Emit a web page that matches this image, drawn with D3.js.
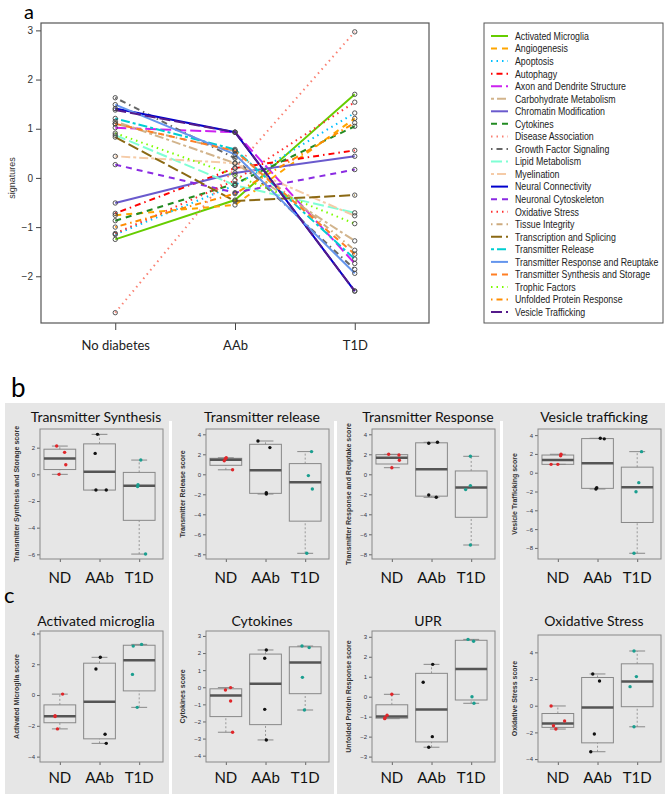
<!DOCTYPE html>
<html>
<head>
<meta charset="utf-8">
<script src="https://cdn.jsdelivr.net/npm/d3@7"></script>
<style>
  body { margin: 0; background: #fff; }
  svg { display: block; }
  text { font-family: "Liberation Sans", Arial, sans-serif; }
  .cal { font-family: Lato, "Open Sans", sans-serif; }
</style>
</head>
<body>
<div id="chart"></div>
<script>
// ---------- panel a : signature trajectories ----------
var stages = ["No diabetes", "AAb", "T1D"];
var signatureNames = [
  "Activated Microglia", "Angiogenesis", "Apoptosis", "Autophagy",
  "Axon and Dendrite Structure", "Carbohydrate Metabolism", "Chromatin Modification",
  "Cytokines", "Disease Association", "Growth Factor Signaling", "Lipid Metabolism",
  "Myelination", "Neural Connectivity", "Neuronal Cytoskeleton", "Oxidative Stress",
  "Tissue Integrity", "Transcription and Splicing", "Transmitter Release",
  "Transmitter Response and Reuptake", "Transmitter Synthesis and Storage",
  "Trophic Factors", "Unfolded Protein Response", "Vesicle Trafficking"
];
var valuesND  = [-1.25, -0.76, -1.15, -0.72, 1.02, 1.15, -0.51, -0.87, -2.74, 1.63, 0.87, 0.44, 1.41, 0.27, -1.13, 1.10, 0.83, 1.21, 1.49, 1.10, 0.91, -1.00, 1.38];
var valuesAAb = [-0.45, -0.55, -0.15, 0.20, 0.93, 0.30, 0.10, -0.12, 0.20, 0.40, -0.15, 0.30, 0.93, -0.30, -0.05, 0.55, -0.47, 0.58, 0.48, 0.55, 0.05, -0.32, 0.93];
var valuesT1D = [1.70, 1.21, 1.32, 0.56, -1.74, -1.28, 0.44, 1.05, 2.97, -1.86, -0.71, -0.77, -2.30, 0.17, 1.54, -1.47, -0.35, -1.65, -1.94, -1.55, -0.93, 1.12, -2.30];
var yTicksA = [-2, -1, 0, 1, 2, 3];

var lineColors = [
  "#66cd00", "#ffa500", "#00bfff", "#ff0000", "#cc22f0", "#d2b48c", "#6a5acd",
  "#228b22", "#fa8072", "#666666", "#7fffd4", "#f5cba7", "#0000cd", "#8a2be2",
  "#ff3030", "#cdaa7d", "#8b6914", "#00ced1", "#6495ed", "#ff7f24", "#7cfc00",
  "#ff8c00", "#551a8b"
];
// R line types 1..6 cycling: solid, dashed, dotted, dotdash, longdash, twodash
var dashPatterns = [null, "6,5", "1.5,4", "1.5,4,6,4", "11,4", "3,3,9,3"];

// ---------- panels b & c : score boxplots ----------
var boxGroups = ["ND", "AAb", "T1D"];
var panelTitles = ["Transmitter Synthesis", "Transmitter release", "Transmitter Response", "Vesicle trafficking",
                   "Activated microglia", "Cytokines", "UPR", "Oxidative Stress"];
var panelAxisTitles = ["Transmitter Synthesis and Storage score", "Transmitter Release score",
                       "Transmitter Response and Reuptake score", "Vesicle Trafficking score",
                       "Activated Microglia score", "Cytokines score",
                       "Unfolded Protein Response score", "Oxidative Stress score"];
var scoresND = [
  [2.12, 1.65, 0.72, 0.00], [1.65, 1.55, 1.35, 0.45], [2.00, 1.93, 1.40, 0.66], [1.96, 1.80, 0.89, 0.89],
  [0.06, -1.34, -1.40, -2.20], [-0.02, -0.16, -0.80, -2.63], [0.12, -0.93, -1.05, -1.10], [-0.02, -1.15, -1.50, -1.75]
];
var scoresAAb = [
  [3.00, 1.57, -1.18, -1.18], [3.33, 2.67, -1.84, -1.97], [3.10, 3.20, -2.07, -2.30], [3.66, 3.60, -1.60, -1.73],
  [2.45, 1.69, -2.55, -3.14], [2.18, 1.70, -1.29, -3.08], [1.62, 0.72, -2.00, -2.53], [2.38, 1.85, -2.12, -3.45]
];
var scoresT1D = [
  [1.07, -0.78, -0.92, -5.98], [2.27, -0.13, -1.47, -7.90], [1.80, -1.13, -1.53, -7.07], [2.24, -1.06, -2.02, -8.57],
  [3.29, 3.18, 1.34, -0.80], [2.41, 2.32, 0.58, -1.33], [2.87, 2.78, 0.00, -0.33], [4.10, 2.18, 1.43, -1.58]
];
// horizontal jitter of the dots (in group units), as in the figure
var jitterND = [
  [-0.08, 0.12, 0.15, -0.02], [0.01, -0.01, -0.04, 0.17], [-0.08, 0.18, 0.19, 0], [0.08, 0.07, -0.17, 0],
  [0.07, -0.12, -0.12, -0.06], [0.12, -0.01, 0.12, 0.17], [0, -0.12, -0.17, -0.18], [-0.17, 0.17, -0.11, -0.05]
];
var jitterAAb = [
  [-0.05, -0.11, -0.09, 0.17], [-0.19, 0.11, 0.02, 0.02], [-0.07, 0.15, -0.07, 0.12], [0.07, 0.17, -0.02, -0.04],
  [0.02, -0.09, 0.14, 0.17], [0.02, -0.02, -0.02, 0.02], [0.03, -0.21, 0.02, -0.07], [-0.12, 0.05, -0.08, -0.17]
];
var jitterT1D = [
  [0.04, -0.03, -0.04, 0.16], [0.16, 0.08, 0.18, 0.04], [-0.02, -0.02, -0.14, -0.02], [0.11, 0.04, -0.03, -0.08],
  [0.06, -0.15, -0.17, -0.05], [-0.08, 0.10, -0.07, -0.02], [-0.08, 0.06, 0.02, 0.07], [-0.08, -0.02, -0.18, -0.08]
];
var panelLimits = [[-6.35, 3.40], [-8.47, 4.53], [-8.47, 4.53], [-9.18, 4.65],
                   [-4.35, 4.16], [-4.37, 3.29], [-3.27, 3.29], [-4.22, 5.30]];
var panelTicks = [
  [-6, -4, -2, 0, 2], [-8, -6, -4, -2, 0, 2, 4], [-8, -6, -4, -2, 0, 2, 4], [-8, -6, -4, -2, 0, 2, 4],
  [-4, -2, 0, 2, 4], [-4, -3, -2, -1, 0, 1, 2, 3], [-3, -2, -1, 0, 1, 2, 3], [-4, -2, 0, 2, 4]
];
var groupColors = ["#e0262a", "#111111", "#1a9e8f"];

var svgWidth = 667;
var svgHeight = 794;

var svg = d3.select("#chart")
  .append("svg")
  .attr("width", svgWidth)
  .attr("height", svgHeight);

// ================= panel a =================
var plotA = { left: 41, right: 429, top: 23, bottom: 323 };

var xA = d3.scaleLinear()
  .domain([-0.62, 2.62])
  .range([plotA.left, plotA.right]);

var yA = d3.scaleLinear()
  .domain([-2.95, 3.15])
  .range([plotA.bottom, plotA.top]);

svg.append("text")
  .attr("class", "cal")
  .attr("x", 24)
  .attr("y", 19)
  .style("font-size", "20px")
  .text("a");

// y axis
var leftAxisA = d3.axisLeft(yA).tickValues(yTicksA).tickSize(5).tickFormat(d3.format("d"));
var gya = svg.append("g")
  .attr("transform", `translate(${plotA.left},0)`)
  .call(leftAxisA);
gya.select(".domain").remove();
gya.selectAll("line").attr("stroke", "#444");
gya.selectAll("text").style("font-size", "10px").attr("fill", "#333").attr("x", -8);

// x axis
var bottomAxisA = d3.axisBottom(xA).tickValues([0, 1, 2]).tickSize(7).tickFormat(i => stages[i]);
var gxa = svg.append("g")
  .attr("transform", `translate(0,${plotA.bottom})`)
  .call(bottomAxisA);
gxa.select(".domain").remove();
gxa.selectAll("line").attr("stroke", "#444");
gxa.selectAll("text")
  .attr("class", "cal")
  .style("font-size", "13px")
  .attr("fill", "#222")
  .attr("y", 18);

svg.append("rect")
  .attr("x", plotA.left)
  .attr("y", plotA.top)
  .attr("width", plotA.right - plotA.left)
  .attr("height", plotA.bottom - plotA.top)
  .attr("fill", "none")
  .attr("stroke", "#555")
  .attr("stroke-width", 1.2);

svg.append("text")
  .attr("transform", `translate(15,${yA(0)}) rotate(-90)`)
  .attr("text-anchor", "middle")
  .style("font-size", "9px")
  .attr("fill", "#333")
  .text("signatures");

// lines
var series = signatureNames.map(function(name, i) {
  return { name: name, i: i, values: [valuesND[i], valuesAAb[i], valuesT1D[i]] };
});

var lineA = d3.line()
  .x((d, j) => xA(j))
  .y(d => yA(d));

var linesGroup = svg.append("g");
linesGroup.selectAll("path")
  .data(series)
  .enter()
  .append("path")
  .attr("d", d => lineA(d.values))
  .attr("fill", "none")
  .attr("stroke", d => lineColors[d.i])
  .attr("stroke-width", 2)
  .attr("stroke-dasharray", d => dashPatterns[d.i % 6]);

// open point markers
var pointsA = [];
series.forEach(function(s) {
  s.values.forEach(function(v, j) { pointsA.push({ j: j, v: v }); });
});
svg.append("g").selectAll("circle")
  .data(pointsA)
  .enter()
  .append("circle")
  .attr("cx", d => xA(d.j))
  .attr("cy", d => yA(d.v))
  .attr("r", 2.2)
  .attr("fill", "none")
  .attr("stroke", "#444")
  .attr("stroke-width", 0.9);

// legend
var legend = { left: 484, top: 23, width: 179, height: 300, first: 36, step: 12.55 };
svg.append("rect")
  .attr("x", legend.left)
  .attr("y", legend.top)
  .attr("width", legend.width)
  .attr("height", legend.height)
  .attr("fill", "#fff")
  .attr("stroke", "#555")
  .attr("stroke-width", 1);

var legendItems = svg.append("g").selectAll("g")
  .data(series)
  .enter()
  .append("g")
  .attr("transform", d => `translate(${legend.left}, ${legend.first + d.i * legend.step})`);

legendItems.append("line")
  .attr("x1", 7)
  .attr("x2", 24)
  .attr("stroke", d => lineColors[d.i])
  .attr("stroke-width", 2)
  .attr("stroke-dasharray", d => dashPatterns[d.i % 6]);

// the figure uses a condensed face; squeeze the regular one horizontally
legendItems.append("text")
  .attr("transform", "translate(31,0) scale(0.8,1)")
  .attr("dy", "0.35em")
  .style("font-size", "11px")
  .attr("fill", "#222")
  .text(d => d.name);

// ================= panels b & c =================
var bg = svg.append("g");
bg.append("rect")
  .attr("x", 5).attr("y", 403)
  .attr("width", 660).attr("height", svgHeight - 403)
  .attr("fill", "#e6e6e6");
[169, 334, 500].forEach(function(sx) {
  bg.append("rect")
    .attr("x", sx).attr("y", 421)
    .attr("width", 3).attr("height", svgHeight - 421)
    .attr("fill", "#fff");
});

svg.append("text").attr("class", "cal").attr("x", 11).attr("y", 397)
  .style("font-size", "26px").text("b");
svg.append("text").attr("class", "cal").attr("x", 4).attr("y", 603)
  .style("font-size", "22px").text("c");

var rowTop = [429, 631];
var rowBottom = [559, 762];
var titleBase = [422, 626];
var labelBase = [583, 783];

function fivenum(arr) {
  var x = arr.slice().sort(d3.ascending);
  var n = x.length;
  var n4 = Math.floor((n + 3) / 2) / 2;
  var d = [1, n4, (n + 1) / 2, n + 1 - n4, n];
  return d.map(k => 0.5 * (x[Math.floor(k) - 1] + x[Math.ceil(k) - 1]));
}

panelTitles.forEach(function(title, p) {
  var col = p % 4;
  var row = Math.floor(p / 4);
  var colX = col * 166;
  var x0 = colX + 40, x1 = colX + 163;
  var top = (p === 7) ? 635 : rowTop[row], bottom = rowBottom[row];

  var x = d3.scaleLinear().domain([0.5, 3.6]).range([x0, x1]);
  var y = d3.scaleLinear().domain(panelLimits[p]).range([bottom, top]);
  var g = svg.append("g");

  g.append("text")
    .attr("class", "cal")
    .attr("x", colX + 96)
    .attr("y", titleBase[row])
    .attr("text-anchor", "middle")
    .style("font-size", "14px")
    .attr("fill", "#111")
    .text(title);

  var ax = g.append("g")
    .attr("transform", `translate(${x0},0)`)
    .call(d3.axisLeft(y).tickValues(panelTicks[p]).tickSize(3).tickFormat(d3.format("d")));
  ax.select(".domain").remove();
  ax.selectAll("line").attr("stroke", "#666");
  ax.selectAll("text").style("font-size", "6px").attr("fill", "#334").attr("x", -5);

  g.append("text")
    .attr("transform", `translate(${colX + 19},${(top + bottom) / 2}) rotate(-90)`)
    .attr("text-anchor", "middle")
    .style("font-size", "7px")
    .style("font-weight", "bold")
    .attr("fill", "#333")
    .text(panelAxisTitles[p]);

  var bx = g.append("g")
    .attr("transform", `translate(0,${bottom})`)
    .call(d3.axisBottom(x).tickValues([1, 2, 3]).tickSize(3).tickFormat(""));
  bx.select(".domain").remove();
  bx.selectAll("line").attr("stroke", "#666");

  boxGroups.forEach(function(grp, k) {
    g.append("text")
      .attr("class", "cal")
      .attr("x", x(k + 1))
      .attr("y", labelBase[row])
      .attr("text-anchor", "middle")
      .style("font-size", "15px")
      .attr("fill", "#111")
      .text(grp);
  });

  g.append("rect")
    .attr("x", x0).attr("y", top)
    .attr("width", x1 - x0).attr("height", bottom - top)
    .attr("fill", "none")
    .attr("stroke", "#888")
    .attr("stroke-width", 1);

  var groupScores = [scoresND[p], scoresAAb[p], scoresT1D[p]];
  var groupJitter = [jitterND[p], jitterAAb[p], jitterT1D[p]];
  var unit = x(2) - x(1);
  var half = 0.4 * unit;

  groupScores.forEach(function(vals, k) {
    var f = fivenum(vals);
    var cx = x(k + 1);
    // whiskers
    g.append("line")
      .attr("x1", cx).attr("x2", cx)
      .attr("y1", y(f[0])).attr("y2", y(f[1]))
      .attr("stroke", "#999").attr("stroke-dasharray", "2,2");
    g.append("line")
      .attr("x1", cx).attr("x2", cx)
      .attr("y1", y(f[3])).attr("y2", y(f[4]))
      .attr("stroke", "#999").attr("stroke-dasharray", "2,2");
    [f[0], f[4]].forEach(function(v) {
      g.append("line")
        .attr("x1", cx - half / 2).attr("x2", cx + half / 2)
        .attr("y1", y(v)).attr("y2", y(v))
        .attr("stroke", "#888");
    });
    g.append("rect")
      .attr("x", cx - half).attr("y", y(f[3]))
      .attr("width", 2 * half).attr("height", y(f[1]) - y(f[3]))
      .attr("fill", "none")
      .attr("stroke", "#888");
    g.append("line")
      .attr("x1", cx - half).attr("x2", cx + half)
      .attr("y1", y(f[2])).attr("y2", y(f[2]))
      .attr("stroke", "#555").attr("stroke-width", 2.5);

    g.selectAll(null)
      .data(vals)
      .enter()
      .append("circle")
      .attr("cx", (d, m) => x(k + 1 + groupJitter[k][m]))
      .attr("cy", d => y(d))
      .attr("r", 1.7)
      .attr("fill", groupColors[k]);
  });
});
</script>
</body>
</html>
